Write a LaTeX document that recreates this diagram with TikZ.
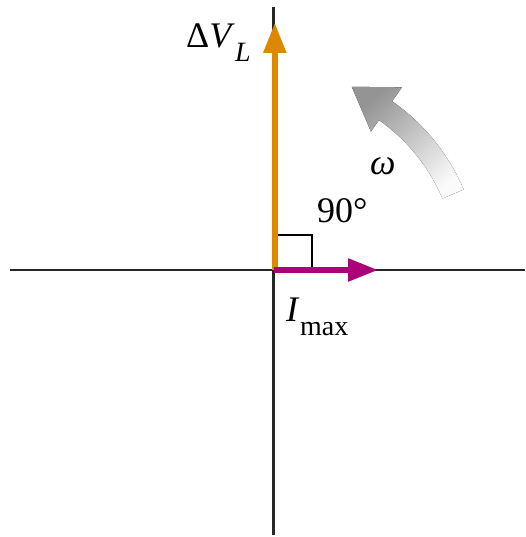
\documentclass[tikz,border=0pt]{standalone}
\usepackage{fontspec}
\setmainfont{Liberation Serif}
\usetikzlibrary{arrows.meta}
\definecolor{vorange}{RGB}{222,136,0}
\definecolor{vmag}{RGB}{170,0,120}
\tikzset{
  axis/.style={line width=2.2pt, black!85},
  phasor/.style={line width=5.5pt, -{Triangle[length=30pt,width=22pt]}},
  lbl/.style={inner sep=0pt, font=\fontsize{36}{40}\selectfont},
  sublbl/.style={inner sep=0pt, font=\fontsize{28}{30}\selectfont},
}
\begin{document}
\begin{tikzpicture}[x=1pt,y=1pt]
\useasboundingbox (-274,-267) rectangle (251,270);
% rotation arrow
\fill[top color=black!42, bottom color=black!2, shading angle=42]
  (23:183) arc[start angle=23, end angle=55, radius=183]
  -- (55:169) -- (67:199) -- (55:223) -- (55:206)
  arc[start angle=55, end angle=23, radius=206] -- cycle;
% axes
\coordinate (xl) at (-264,0);
\coordinate (xr) at (251,0);
\coordinate (yt) at (-0.5,263);
\coordinate (yb) at (-0.5,-265);
\coordinate (o) at (0,0);
\draw[axis] (xl) -- (xr);
\draw[axis] (yb) -- (yt);
% right angle mark
\coordinate (ra1) at (0,35);
\coordinate (ra2) at (38,35);
\coordinate (ra3) at (38,0);
\draw[line width=1.6pt] (ra1) -- (ra2) -- (ra3);
% phasors
\coordinate (vt) at (0.8,247);
\coordinate (it) at (104,0);
\draw[phasor, vorange] (0.8,0) -- (vt);
\draw[phasor, vmag] (o) -- (it);
% labels
\node[lbl, anchor=base west] (vl) at (-88,222) {Δ\textit{V}};
\node[sublbl, anchor=base west] (vls) at (-39,208) {\textit{L}};
\node[lbl, anchor=base west] (ang) at (43,47) {90°};
\node[lbl, anchor=base west] (om) at (96,95) {\textit{ω}};
\node[lbl, anchor=base west] (im) at (12,-52) {\textit{I}};
\node[sublbl, anchor=base west] (ims) at (26,-66) {max};
\end{tikzpicture}
\end{document}
